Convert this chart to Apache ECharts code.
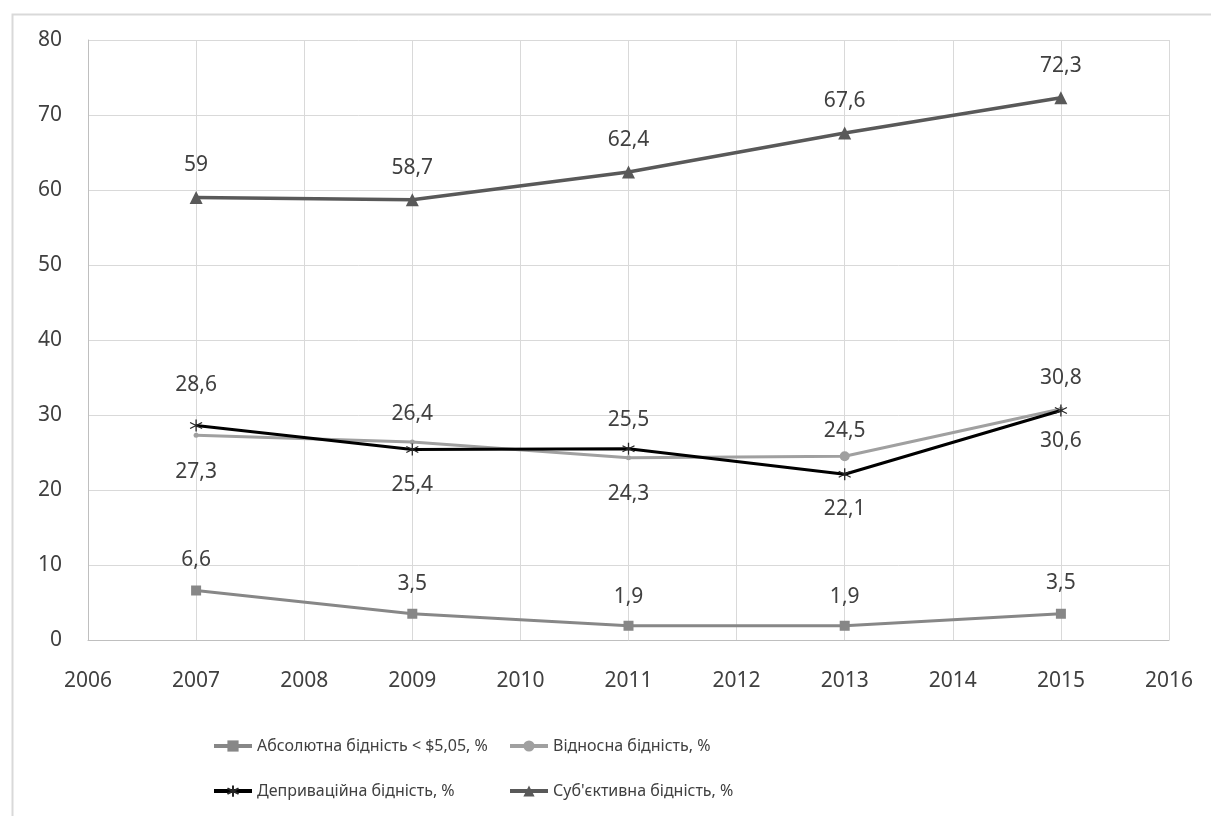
<!DOCTYPE html>
<html>
<head>
<meta charset="utf-8">
<script src="https://cdn.jsdelivr.net/npm/echarts@6/dist/echarts.min.js"></script>
<style>
  html, body { margin: 0; padding: 0; background: #fff; }
  #chart { width: 1211px; height: 816px; }
</style>
</head>
<body>
<div id="chart"></div>
<script>
// Survey years and poverty rates (%)
const years = [2007, 2009, 2011, 2013, 2015];
const absolutePoverty = [6.6, 3.5, 1.9, 1.9, 3.5];
const relativePoverty = [27.3, 26.4, 24.3, 24.5, 30.8];
const deprivationPoverty = [28.6, 25.4, 25.5, 22.1, 30.6];
const subjectivePoverty = [59, 58.7, 62.4, 67.6, 72.3];

const seriesNames = [
  'Абсолютна бідність < $5,05, %',
  'Відносна бідність, %',
  'Депривацiйна бідність, %',
  'Суб\'єктивна бідність, %'
];

// Vertical shift of each value label from its point, in pixels
const labelShift = {
  absolute: [-30, -30, -29, -29, -31],
  relative: [37, -28, 36, -25, -31],
  deprivation: [-40, 36, -29, 35, 31],
  subjective: [-32, -32, -32, -32, -32]
};

const FONT = 'Noto Sans';
const fmt = v => String(v).replace('.', ',');

// Asterisk marker: vertical stroke plus two diagonals
const STAR = 'path://M5,0 L5,10 M0.7,2.5 L9.3,7.5 M9.3,2.5 L0.7,7.5';

function buildSeries(name, values, shifts, color, symbol, symbolSize, lineWidth, extra) {
  return Object.assign({
    name: name,
    type: 'line',
    symbol: symbol,
    symbolSize: symbolSize,
    lineStyle: { color: color, width: lineWidth },
    itemStyle: { color: color },
    z: 3,
    data: years.map((y, i) => ({
      value: [y, values[i]],
      label: {
        show: true,
        position: 'inside',
        offset: [0, shifts[i]],
        formatter: () => fmt(values[i]),
        color: '#404040',
        fontFamily: FONT,
        fontSize: 21
      }
    }))
  }, extra || {});
}

const relSeries = buildSeries(seriesNames[1], relativePoverty, labelShift.relative, '#a0a0a0', 'circle', 5, 3);
relSeries.data[3].symbolSize = 10;

const series = [
  buildSeries(seriesNames[0], absolutePoverty, labelShift.absolute, '#878787', 'rect', 10, 3),
  relSeries,
  buildSeries(seriesNames[2], deprivationPoverty, labelShift.deprivation, '#000000', STAR, 12, 3, {
    itemStyle: { color: 'none', borderColor: '#262626', borderWidth: 1.3 }
  }),
  buildSeries(seriesNames[3], subjectivePoverty, labelShift.subjective, '#595959', 'triangle', 13, 3.5)
];

const legendPlaces = [
  { left: 207, top: 733 },
  { left: 503, top: 733 },
  { left: 207, top: 778 },
  { left: 503, top: 778 }
];

const legends = seriesNames.map((n, i) => ({
  data: [n],
  left: legendPlaces[i].left,
  top: legendPlaces[i].top,
  itemWidth: 38,
  itemHeight: 14,
  itemGap: 0,
  selectedMode: false,
  lineStyle: { width: 4 },
  textStyle: {
    fontFamily: FONT,
    fontSize: 16,
    color: '#404040'
  }
}));

const chart = echarts.init(document.getElementById('chart'), null, { renderer: 'canvas' });
chart.setOption({
  animation: false,
  backgroundColor: '#ffffff',
  graphic: [{
    type: 'rect',
    left: 10, top: 12,
    shape: { width: 1200, height: 830 },
    style: { fill: 'none', stroke: '#d9d9d9', lineWidth: 2 },
    silent: true, z: -10
  }],
  grid: { left: 88, right: 42, top: 40, bottom: 176, containLabel: false },
  xAxis: {
    type: 'value',
    min: 2006, max: 2016, interval: 1,
    axisLine: { show: true, lineStyle: { color: '#bfbfbf', width: 1 } },
    axisTick: { show: false },
    axisLabel: { formatter: v => String(v), color: '#404040', fontFamily: FONT, fontSize: 21, margin: 31 },
    splitLine: { show: true, lineStyle: { color: '#d9d9d9', width: 1 } }
  },
  yAxis: {
    type: 'value',
    min: 0, max: 80, interval: 10,
    axisLine: { show: true, lineStyle: { color: '#bfbfbf', width: 1 } },
    axisTick: { show: false },
    axisLabel: { color: '#404040', fontFamily: FONT, fontSize: 21, margin: 26 },
    splitLine: { show: true, lineStyle: { color: '#d9d9d9', width: 1 } }
  },
  legend: legends,
  series: series
});
</script>
</body>
</html>
